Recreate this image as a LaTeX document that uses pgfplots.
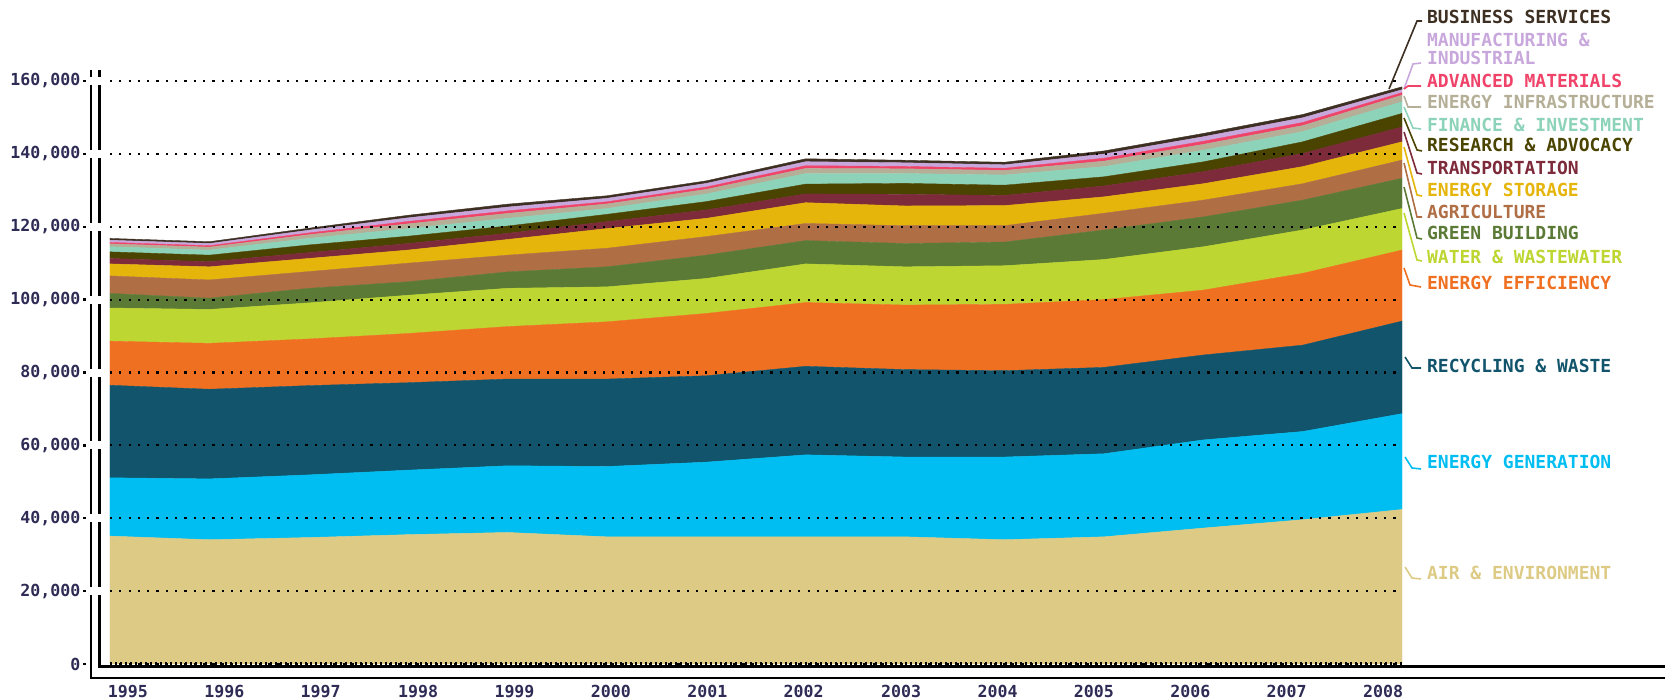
\documentclass[border=0pt]{standalone}
\usepackage{fontspec}
\setmainfont{DejaVu Sans Mono}
\usepackage{pgfplots}
\usepackage{pgfplotstable}
\pgfplotsset{compat=1.18}
\definecolor{cAir}{HTML}{DDCB85}
\definecolor{cGen}{HTML}{00BEF2}
\definecolor{cRec}{HTML}{11546B}
\definecolor{cEff}{HTML}{F07021}
\definecolor{cWat}{HTML}{BDD631}
\definecolor{cGre}{HTML}{5B7A35}
\definecolor{cAgr}{HTML}{B06E45}
\definecolor{cSto}{HTML}{E5B50C}
\definecolor{cTra}{HTML}{7D2A3A}
\definecolor{cRes}{HTML}{4A4400}
\definecolor{cFin}{HTML}{8DD3B9}
\definecolor{cInf}{HTML}{B5AF98}
\definecolor{cAdv}{HTML}{F0436A}
\definecolor{cMan}{HTML}{C8A8DC}
\definecolor{cBus}{HTML}{3D2F22}
\definecolor{cTick}{HTML}{2E2B55}
\pgfplotstableread{
year a1 a2 a3 a4 a5 a6 a7 a8 a9 a10 a11 a12 a13 a14 a15
1995 35100 16000 25400 12100 9100 4000 4800 3300 1500 1800 1400 800 400 600 500
1996 34100 16700 24600 12600 9300 3100 5000 3600 1400 1800 1400 800 400 600 500
1997 34700 17200 24500 12800 9900 4000 4600 3600 1600 2100 1800 1000 500 750 550
1998 35500 17700 24000 13500 10500 3700 5100 3600 1800 2000 2100 1300 650 1000 700
1999 36100 18300 23800 14400 10500 4500 4600 4300 1700 2000 2100 1350 700 1050 800
2000 34900 19300 24000 15700 9600 5500 5100 5400 1900 2000 1600 1250 600 950 700
2001 34900 20500 23700 17100 9600 6400 5100 5000 2300 2300 2100 1250 650 1000 700
2002 34900 22500 24300 17500 10600 6400 4700 5700 2400 2700 2900 1400 750 1100 800
2003 34900 21900 24000 17700 10500 6400 4900 5400 3200 3000 2700 1300 650 1000 700
2004 34100 22700 23700 18200 10600 6500 4500 5500 2800 2800 2800 1250 600 950 700
2005 34900 22800 23700 18600 11000 8100 4600 4500 3000 2500 2800 1500 800 1150 850
2006 37300 24200 23300 17800 11900 8200 4600 4500 3300 2700 3200 1600 850 1250 900
2007 39600 24200 23700 19700 11900 8200 4500 4700 3600 3200 2800 1650 850 1300 900
2008 42400 26300 25400 19500 11400 8300 5000 5000 4100 3700 3200 1800 700 800 800
}\datatable
\begin{document}
\begin{tikzpicture}
\useasboundingbox (0,0) rectangle (837pt,350pt);
\begin{axis}[
  at={(55pt,18pt)}, anchor=south west, scale only axis,
  width=646pt, height=291.5pt,
  xmin=1995, xmax=2008, ymin=0, ymax=160000,
  enlargelimits=false, clip=false,
  axis line style={draw=none},
  major tick length=0pt, minor tick length=0pt,
  scaled y ticks=false, scaled x ticks=false,
  ytick={0,20000,40000,60000,80000,100000,120000,140000,160000},
  yticklabels={0,{20,000},{40,000},{60,000},{80,000},{100,000},{120,000},{140,000},{160,000}},
  xtick={1995.18,1996.15,1997.12,1998.10,1999.07,2000.04,2001.01,2001.98,2002.96,2003.93,2004.90,2005.87,2006.84,2007.81},
  xticklabels={1995,1996,1997,1998,1999,2000,2001,2002,2003,2004,2005,2006,2007,2008},
  tick label style={font=\bfseries\fontsize{8.3}{9}\selectfont, text=cTick},
  yticklabel style={anchor=east, inner sep=0pt, xshift=-14.6pt},
  xticklabel style={anchor=north, inner sep=0pt, yshift=-10.5pt},
  ymajorgrids,
  major grid style={black, line width=1.1pt, dash pattern=on 1.1pt off 3.55pt},
  axis on top,
  stack plots=y,
  every axis plot/.append style={line width=0.2pt},
]
\addplot[fill=cAir, draw=cAir] table[x=year,y=a1] {\datatable} \closedcycle;
\addplot[fill=cGen, draw=cGen] table[x=year,y=a2] {\datatable} \closedcycle;
\addplot[fill=cRec, draw=cRec] table[x=year,y=a3] {\datatable} \closedcycle;
\addplot[fill=cEff, draw=cEff] table[x=year,y=a4] {\datatable} \closedcycle;
\addplot[fill=cWat, draw=cWat] table[x=year,y=a5] {\datatable} \closedcycle;
\addplot[fill=cGre, draw=cGre] table[x=year,y=a6] {\datatable} \closedcycle;
\addplot[fill=cAgr, draw=cAgr] table[x=year,y=a7] {\datatable} \closedcycle;
\addplot[fill=cSto, draw=cSto] table[x=year,y=a8] {\datatable} \closedcycle;
\addplot[fill=cTra, draw=cTra] table[x=year,y=a9] {\datatable} \closedcycle;
\addplot[fill=cRes, draw=cRes] table[x=year,y=a10] {\datatable} \closedcycle;
\addplot[fill=cFin, draw=cFin] table[x=year,y=a11] {\datatable} \closedcycle;
\addplot[fill=cInf, draw=cInf] table[x=year,y=a12] {\datatable} \closedcycle;
\addplot[fill=cAdv, draw=cAdv] table[x=year,y=a13] {\datatable} \closedcycle;
\addplot[fill=cMan, draw=cMan] table[x=year,y=a14] {\datatable} \closedcycle;
\addplot[fill=cBus, draw=cBus] table[x=year,y=a15] {\datatable} \closedcycle;
\end{axis}
\begin{scope}[x=0.5pt,y=-0.5pt,shift={(0pt,350pt)}]
  % left double axis lines with gaps at ticks
  \foreach \a/\b in {70/77, 85/150, 158/223, 231/296, 304/369, 377/441, 449/514, 522/587} {
    \draw[line width=1.2pt] (90.7,\a) -- (90.7,\b);
    \draw[line width=1.2pt] (99.3,\a) -- (99.3,\b);
  }
  \draw[line width=1.2pt] (90.7,595) -- (90.7,678.3) -- (1665,678.3);
  \draw[line width=1.2pt] (99.3,595) -- (99.3,666.7) -- (1665,666.7);
  % tick dots
  \foreach \t in {81.1,154,226.8,299.7,372.6,445.4,518.3,591.1,664} {
    \fill (82.5,\t-1.2) rectangle (85.5,\t+1.2);
  }
  % minor ticks along bottom
  \draw[line width=1.5pt, dash pattern=on 1pt off 1.5pt] (110,663.5) -- (1402,663.5);
  % leaders
  \begin{scope}[line width=0.8pt]
  \draw[cBus] (1389,89) -- (1417,21) -- (1422,21);
  \draw[cMan] (1404,89) -- (1413,64) -- (1421,63);
  \draw[cAdv] (1404,89) -- (1408,86) -- (1421,86);
  \draw[cInf] (1404,96) -- (1408,107) -- (1421,107);
  \draw[cFin] (1404,107) -- (1413,128) -- (1421,129);
  \draw[cRes] (1404,118) -- (1417,150) -- (1422,151);
  \draw[cTra] (1404,132) -- (1417,173) -- (1422,174);
  \draw[cSto] (1404,147) -- (1417,195) -- (1422,196);
  \draw[cAgr] (1404,163) -- (1417,217) -- (1422,217);
  \draw[cGre] (1404,187) -- (1417,238) -- (1422,239);
  \draw[cWat] (1404,213) -- (1417,260) -- (1422,261);
  \draw[cEff] (1404,268) -- (1410,285) -- (1421,287);
  \draw[cRec] (1405,357) -- (1412,368) -- (1421,368);
  \draw[cGen] (1405,457) -- (1412,468) -- (1421,469);
  \draw[cAir] (1405,567) -- (1412,578) -- (1421,579);
  \end{scope}
  \begin{scope}[every node/.style={anchor=west, inner sep=0pt, text height=6.56pt, text depth=0pt, font=\bfseries\fontsize{9}{10}\selectfont}]
  \node[text=cBus] at (1426.7,17) {BUSINESS SERVICES};
  \node[text=cMan] at (1426.7,40) {MANUFACTURING \&};
  \node[text=cMan] at (1426.7,58) {INDUSTRIAL};
  \node[text=cAdv] at (1426.7,81) {ADVANCED MATERIALS};
  \node[text=cInf] at (1426.7,101.7) {ENERGY INFRASTRUCTURE};
  \node[text=cFin] at (1426.7,125) {FINANCE \& INVESTMENT};
  \node[text=cRes] at (1426.7,145) {RESEARCH \& ADVOCACY};
  \node[text=cTra] at (1426.7,168) {TRANSPORTATION};
  \node[text=cSto] at (1426.7,190) {ENERGY STORAGE};
  \node[text=cAgr] at (1426.7,212) {AGRICULTURE};
  \node[text=cGre] at (1426.7,233) {GREEN BUILDING};
  \node[text=cWat] at (1426.7,256.7) {WATER \& WASTEWATER};
  \node[text=cEff] at (1426.7,282.7) {ENERGY EFFICIENCY};
  \node[text=cRec] at (1426.7,366) {RECYCLING \& WASTE};
  \node[text=cGen] at (1426.7,461.7) {ENERGY GENERATION};
  \node[text=cAir] at (1426.7,572.7) {AIR \& ENVIRONMENT};
  \end{scope}
\end{scope}
\end{tikzpicture}
\end{document}
